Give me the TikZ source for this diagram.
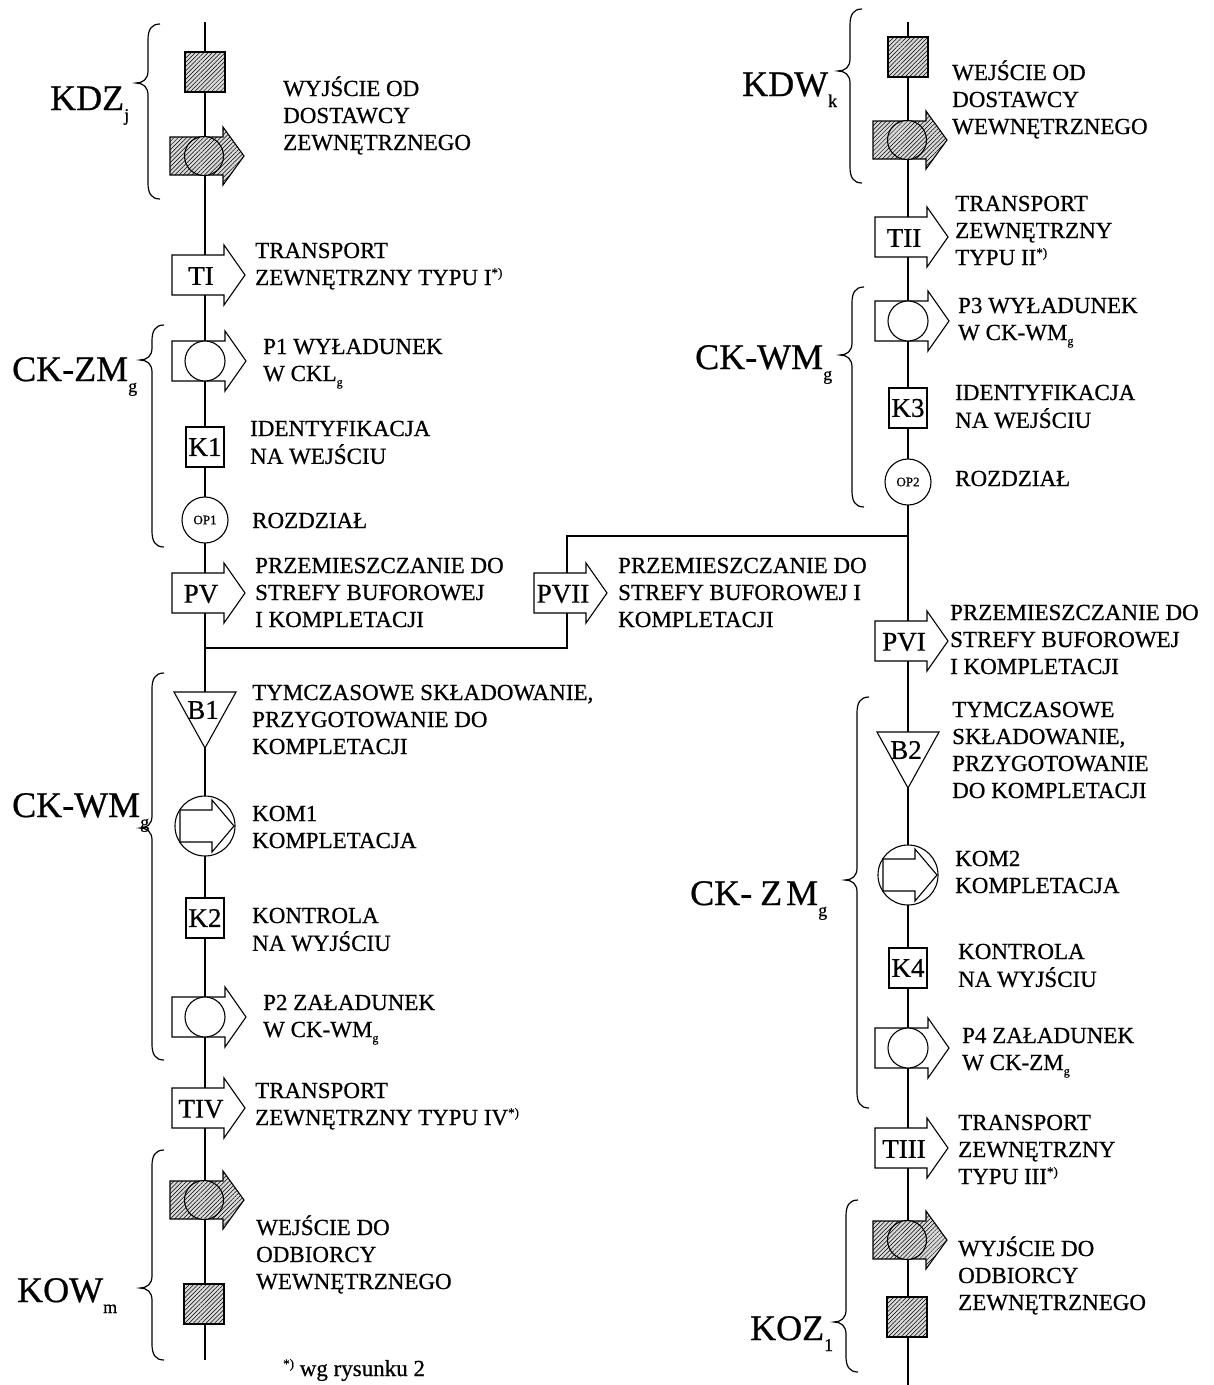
\documentclass[tikz,border=0pt]{standalone}
\usepackage{fontspec}
\usepackage{array}
\setmainfont{Liberation Serif}[FakeBold=0.6]
\newfontfamily\dscfam{Liberation Serif}[FakeBold=0.6]
\usetikzlibrary{patterns.meta}
\newcommand\dscfont{\dscfam\fontsize{23}{27}\selectfont}
\newcommand\sbx[1]{\raisebox{-5pt}{\fontsize{12}{12}\selectfont #1}}
\newcommand\spx[1]{\raisebox{8pt}{\fontsize{13}{13}\selectfont #1}}
\newcommand\bsub[1]{\raisebox{-11pt}{\fontsize{18}{18}\selectfont #1}}
\newcommand\desctext[4]{\node[desc] (#3) at (#1,#2) {\begin{tabular}[t]{@{}>{\dscfont}l@{}}#4\end{tabular}};}
\newcommand\harrow[3]{%
  \path[hatch] ({#1-35},{#2-19}) -- ({#1+18},{#2-19}) -- ({#1+18},{#2-29}) -- ({#1+39},{#2}) -- ({#1+18},{#2+29}) -- ({#1+18},{#2+19}) -- ({#1-35},{#2+19}) -- cycle;
  \node[hatch, circle, minimum size=39, inner sep=0pt] (#3) at ({#1-1},#2) {};}
\newcommand\tarrow[4]{%
  \path[wshape] ({#1-33},{#2-20}) -- ({#1+19},{#2-20}) -- ({#1+19},{#2-30}) -- ({#1+40},{#2}) -- ({#1+19},{#2+30}) -- ({#1+19},{#2+20}) -- ({#1-33},{#2+20}) -- cycle;
  \node[symtxt] (#3) at ({#1-4},{#2+1}) {#4};}
\newcommand\parrow[3]{%
  \path[wshape] ({#1-33},{#2-20}) -- ({#1+20},{#2-20}) -- ({#1+20},{#2-30}) -- ({#1+41},{#2}) -- ({#1+20},{#2+30}) -- ({#1+20},{#2+20}) -- ({#1-33},{#2+20}) -- cycle;
  \node[wshape, circle, minimum size=40, inner sep=0pt] (#3) at (#1,#2) {};}
\newcommand\kom[3]{%
  \node[komc] (#3) at (#1,#2) {};
  \draw[line width=1.1pt] ({#1-25},{#2-16}) -- ({#1+7},{#2-16}) -- ({#1+7},{#2-26}) -- ({#1+29},{#2}) -- ({#1+7},{#2+26}) -- ({#1+7},{#2+16}) -- ({#1-25},{#2+16}) -- cycle;}
\newcommand\btri[4]{%
  \path[wshape] ({#1-31},#2) -- ({#1+31},#2) -- (#1,{#2+56}) -- cycle;
  \node[symtxt] (#3) at ({#1-2},{#2+18}) {#4};}
\newcommand\hsq[3]{\node[hatch, minimum size=40, inner sep=0pt] (#3) at (#1,#2) {};}
\newcommand\brc[4]{%
  \draw[brace] ({#1+12},#2) .. controls ({#1+3},#2) and (#1,{#2+6}) .. (#1,{#2+16}) -- (#1,{#3-12}) .. controls (#1,{#3-4}) and ({#1-5},#3) .. ({#1-12},#3) .. controls ({#1-5},#3) and (#1,{#3+4}) .. (#1,{#3+12}) -- (#1,{#4-16}) .. controls (#1,{#4-6}) and ({#1+3},#4) .. ({#1+12},#4);}
\begin{document}
\begin{tikzpicture}[x=1pt,y=-1pt,
  ln/.style={line width=1.2pt},
  hatch/.style={preaction={fill=gray!30}, pattern={Lines[angle=45,distance=3pt,line width=0.5pt]}, draw=black, line width=1.1pt},
  wshape/.style={fill=white, draw=black, line width=1.1pt},
  desc/.style={anchor=base west, inner sep=0pt, font=\dscfont},
  biglbl/.style={anchor=base west, inner sep=0pt, font=\rmfamily\fontsize{36}{36}\selectfont},
  symtxt/.style={inner sep=0pt, font=\rmfamily\fontsize{27}{27}\selectfont},
  kbox/.style={draw, line width=1.1pt, fill=white, minimum width=38, minimum height=40, inner sep=0pt, font=\rmfamily\fontsize{27}{27}\selectfont},
  opc/.style={circle, draw, line width=1.1pt, fill=white, minimum size=46, inner sep=0pt, font=\rmfamily\fontsize{13}{13}\selectfont},
  komc/.style={circle, draw, line width=1.1pt, fill=white, minimum size=60, inner sep=0pt},
  brace/.style={line width=1.2pt}
]
\useasboundingbox (0,0) rectangle (1214,1385);
% axes and connector
\coordinate (Ltop) at (205,22);
\coordinate (Lbot) at (205,1360);
\coordinate (Rtop) at (908,22);
\coordinate (Rbot) at (908,1385);
\coordinate (Ja) at (205,648);
\coordinate (Jb) at (567,648);
\coordinate (Jc) at (567,536);
\coordinate (Jd) at (908,536);
\draw[ln] (Ltop) -- (Lbot);
\draw[ln] (Rtop) -- (Rbot);
\draw[ln] (Ja) -- (Jb) -- (Jc) -- (Jd);
% braces
\brc{148}{24}{83}{199}
\brc{152}{325}{360}{547}
\brc{152}{673}{828}{1060}
\brc{152}{1150}{1288}{1360}
\brc{850}{9}{71}{183}
\brc{852}{287}{355}{507}
\brc{857}{697}{880}{1108}
\brc{846}{1200}{1322}{1372}
% big labels
\node[biglbl] (kdz) at (50,110) {KDZ\bsub{j}};
\node[biglbl] (ckzmL) at (12,381) {CK-ZM\bsub{g}};
\node[biglbl] (ckwmL) at (12,817) {CK-WM\bsub{g}};
\node[biglbl] (kow) at (17,1302) {KOW\bsub{m}};
\node[biglbl] (kdw) at (742,96) {KDW\bsub{k}};
\node[biglbl] (ckwmR) at (695,369) {CK-WM\bsub{g}};
\node[biglbl] (ckzmR) at (690,905) {CK-\hspace{8pt}Z\hspace{4pt}M\bsub{g}};
\node[biglbl] (koz) at (750,1340) {KOZ\bsub{1}};
% left column symbols
\hsq{205}{72}{sqL1}
\harrow{205}{156}{inL}
\tarrow{205}{275}{TI}{TI}
\parrow{205}{361}{P1}
\node[kbox] (K1) at (205,447) {K1};
\node[opc] (OP1) at (205,520) {OP1};
\tarrow{205}{593}{PV}{PV}
\tarrow{567}{593}{PVII}{PVII}
\btri{205}{692}{B1}{B1}
\kom{205}{826}{KOM1}
\node[kbox] (K2) at (205,918) {K2};
\parrow{205}{1017}{P2}
\tarrow{205}{1108}{TIV}{TIV}
\harrow{205}{1200}{outL}
\hsq{204}{1304}{sqL2}
% right column symbols
\hsq{908}{57}{sqR1}
\harrow{908}{140}{inR}
\tarrow{908}{237}{TII}{TII}
\parrow{908}{321}{P3}
\node[kbox] (K3) at (908,408) {K3};
\node[opc] (OP2) at (908,482) {OP2};
\tarrow{908}{641}{PVI}{PVI}
\btri{908}{732}{B2}{B2}
\kom{908}{875}{KOM2}
\node[kbox] (K4) at (908,968) {K4};
\parrow{908}{1048}{P4}
\tarrow{908}{1148}{TIII}{TIII}
\harrow{908}{1240}{outR}
\hsq{907}{1317}{sqR2}
% left descriptions
\desctext{283}{96}{dL1}{WYJŚCIE OD\\DOSTAWCY\\ZEWNĘTRZNEGO}
\desctext{255}{258}{dL2}{TRANSPORT\\ZEWNĘTRZNY TYPU I\spx{*)}}
\desctext{263}{354}{dL3}{P1 WYŁADUNEK\\W CKL\sbx{g}}
\desctext{250}{436}{dL4}{IDENTYFIKACJA\\NA WEJŚCIU}
\desctext{252}{528}{dL5}{ROZDZIAŁ}
\desctext{255}{573}{dL6}{PRZEMIESZCZANIE DO\\STREFY BUFOROWEJ\\I KOMPLETACJI}
\desctext{618}{573}{dL7}{PRZEMIESZCZANIE DO\\STREFY BUFOROWEJ I\\KOMPLETACJI}
\desctext{252}{700}{dL8}{TYMCZASOWE SKŁADOWANIE,\\PRZYGOTOWANIE DO\\KOMPLETACJI}
\desctext{252}{821}{dL9}{KOM1\\KOMPLETACJA}
\desctext{252}{923}{dL10}{KONTROLA\\NA WYJŚCIU}
\desctext{263}{1010}{dL11}{P2 ZAŁADUNEK\\W CK-WM\sbx{g}}
\desctext{255}{1098}{dL12}{TRANSPORT\\ZEWNĘTRZNY TYPU IV\spx{*)}}
\desctext{256}{1235}{dL13}{WEJŚCIE DO\\ODBIORCY\\WEWNĘTRZNEGO}
\node[desc] (fn) at (283,1376) {\spx{*)} wg rysunku 2};
% right descriptions
\desctext{952}{80}{dR1}{WEJŚCIE OD\\DOSTAWCY\\WEWNĘTRZNEGO}
\desctext{955}{211}{dR2}{TRANSPORT\\ZEWNĘTRZNY\\TYPU II\spx{*)}}
\desctext{958}{313}{dR3}{P3 WYŁADUNEK\\W CK-WM\sbx{g}}
\desctext{955}{400}{dR4}{IDENTYFIKACJA\\NA WEJŚCIU}
\desctext{955}{486}{dR5}{ROZDZIAŁ}
\desctext{950}{620}{dR6}{PRZEMIESZCZANIE DO\\STREFY BUFOROWEJ\\I KOMPLETACJI}
\desctext{952}{717}{dR7}{TYMCZASOWE\\SKŁADOWANIE,\\PRZYGOTOWANIE\\DO KOMPLETACJI}
\desctext{955}{866}{dR8}{KOM2\\KOMPLETACJA}
\desctext{958}{959}{dR9}{KONTROLA\\NA WYJŚCIU}
\desctext{962}{1043}{dR10}{P4 ZAŁADUNEK\\W CK-ZM\sbx{g}}
\desctext{958}{1130}{dR11}{TRANSPORT\\ZEWNĘTRZNY\\TYPU III\spx{*)}}
\desctext{958}{1256}{dR12}{WYJŚCIE DO\\ODBIORCY\\ZEWNĘTRZNEGO}
\end{tikzpicture}
\end{document}
